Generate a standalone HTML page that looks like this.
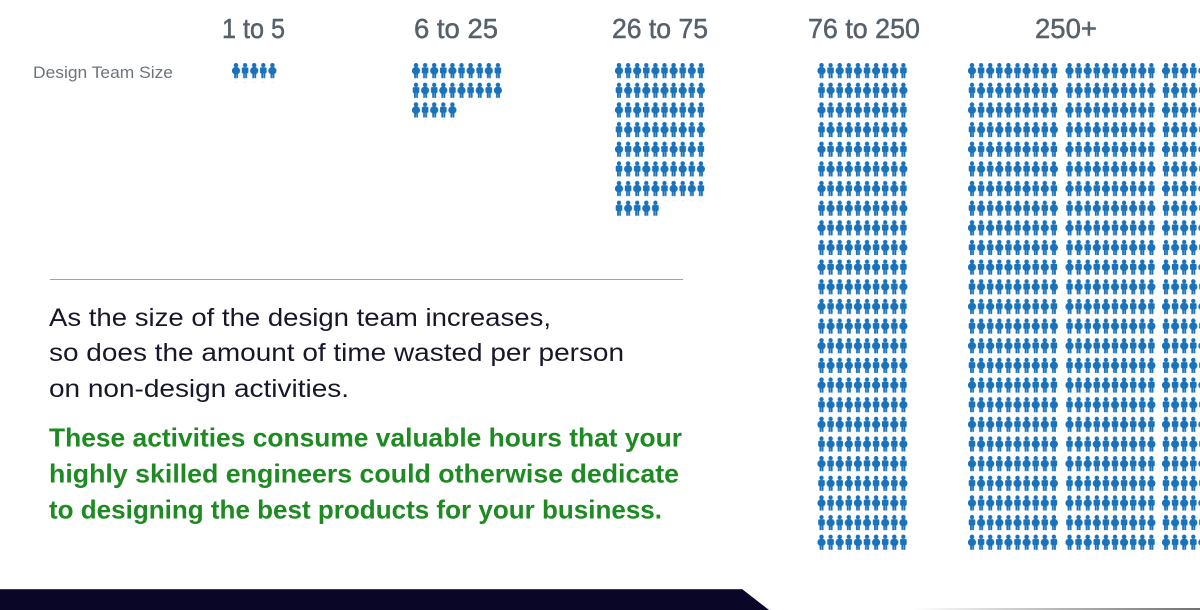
<!DOCTYPE html>
<html>
<head>
<meta charset="utf-8">
<style>
  html, body { margin:0; padding:0; background:#ffffff; }
  body { width:1200px; height:610px; overflow:hidden; }
  svg { display:block; }
  .hdr { font-family:"Liberation Sans", sans-serif; font-size:28px; fill:#56616c; stroke:#56616c; stroke-width:0.5px; }
  .lbl { font-family:"Liberation Sans", sans-serif; font-size:17px; fill:#6d747b; }
  .para { font-family:"Liberation Sans", sans-serif; font-size:25px; fill:#17172b; }
  .grn { font-family:"Liberation Sans", sans-serif; font-size:26px; font-weight:bold; fill:#1d8a22; }
</style>
</head>
<body>
<svg width="1200" height="610" viewBox="0 0 1200 610" xmlns="http://www.w3.org/2000/svg">
  <defs>
    <g id="fem">
      <circle cx="4" cy="2.2" r="2.25"/>
      <ellipse cx="4" cy="7.7" rx="4.1" ry="3.9"/>
      <rect x="2.1" y="10" width="1.8" height="5.2"/>
      <rect x="4.2" y="10" width="1.8" height="5.2"/>
    </g>
    <g id="mal">
      <circle cx="4" cy="2.2" r="2.15"/>
      <rect x="0.7" y="4.4" width="6.6" height="6" rx="1.3"/>
      <rect x="2.0" y="9" width="1.85" height="6.2"/>
      <rect x="4.15" y="9" width="1.85" height="6.2"/>
    </g>
    <pattern id="ppl" patternUnits="userSpaceOnUse" x="0" y="0" width="18.2" height="39.3">
      <g fill="#1a72bb">
        <use href="#fem" x="0" y="0"/>
        <use href="#mal" x="9.1" y="0"/>
        <use href="#mal" x="0" y="19.65"/>
        <use href="#fem" x="9.1" y="19.65"/>
      </g>
    </pattern>
    <linearGradient id="bgl" x1="0" y1="0" x2="1" y2="0">
      <stop offset="0" stop-color="#ffffff"/>
      <stop offset="1" stop-color="#707070"/>
    </linearGradient>
  </defs>

  <!-- Headers -->
  <text class="hdr" x="222" y="38" textLength="63" lengthAdjust="spacingAndGlyphs">1 to 5</text>
  <text class="hdr" x="414" y="38" textLength="84" lengthAdjust="spacingAndGlyphs">6 to 25</text>
  <text class="hdr" x="612" y="38" textLength="96" lengthAdjust="spacingAndGlyphs">26 to 75</text>
  <text class="hdr" x="808" y="38" textLength="112" lengthAdjust="spacingAndGlyphs">76 to 250</text>
  <text class="hdr" x="1035" y="38" textLength="62" lengthAdjust="spacingAndGlyphs">250+</text>

  <text class="lbl" x="33" y="78" textLength="140" lengthAdjust="spacingAndGlyphs">Design Team Size</text>

  <!-- Icon blocks -->
  <g transform="translate(232,63)">
    <rect x="0" y="0" width="45.5" height="19.65" fill="url(#ppl)"/>
  </g>
  <g transform="translate(412,63)">
    <rect x="0" y="0" width="91" height="39.3" fill="url(#ppl)"/>
    <rect x="0" y="39.3" width="45.5" height="19.65" fill="url(#ppl)"/>
  </g>
  <g transform="translate(615,63)">
    <rect x="0" y="0" width="91" height="137.55" fill="url(#ppl)"/>
    <rect x="0" y="137.55" width="45.5" height="19.65" fill="url(#ppl)"/>
  </g>
  <g transform="translate(817.5,63)">
    <rect x="0" y="0" width="91" height="491.25" fill="url(#ppl)"/>
  </g>
  <g transform="translate(968,63)">
    <rect x="0" y="0" width="91" height="491.25" fill="url(#ppl)"/>
  </g>
  <g transform="translate(1065.5,63)">
    <rect x="0" y="0" width="91" height="491.25" fill="url(#ppl)"/>
  </g>
  <g transform="translate(1162,63)">
    <rect x="0" y="0" width="91" height="491.25" fill="url(#ppl)"/>
  </g>

  <!-- Separator -->
  <line x1="50" y1="279.5" x2="683" y2="279.5" stroke="#a3a3a3" stroke-width="1"/>

  <!-- Paragraph -->
  <text class="para" x="49" y="326" textLength="502" lengthAdjust="spacingAndGlyphs">As the size of the design team increases,</text>
  <text class="para" x="49" y="361" textLength="575" lengthAdjust="spacingAndGlyphs">so does the amount of time wasted per person</text>
  <text class="para" x="49" y="397" textLength="300" lengthAdjust="spacingAndGlyphs">on non-design activities.</text>

  <text class="grn" x="49" y="446.5" textLength="633" lengthAdjust="spacingAndGlyphs">These activities consume valuable hours that your</text>
  <text class="grn" x="49" y="482.5" textLength="630" lengthAdjust="spacingAndGlyphs">highly skilled engineers could otherwise dedicate</text>
  <text class="grn" x="49" y="518.5" textLength="613" lengthAdjust="spacingAndGlyphs">to designing the best products for your business.</text>

  <!-- Bottom bar -->
  <polygon points="0,589 742,589 769,610 0,610" fill="#0a0627"/>
  <line x1="0" y1="589.5" x2="742" y2="589.5" stroke="#3e3c55" stroke-width="1"/>
  <rect x="913" y="608" width="287" height="2" fill="url(#bgl)"/>
</svg>
</body>
</html>
